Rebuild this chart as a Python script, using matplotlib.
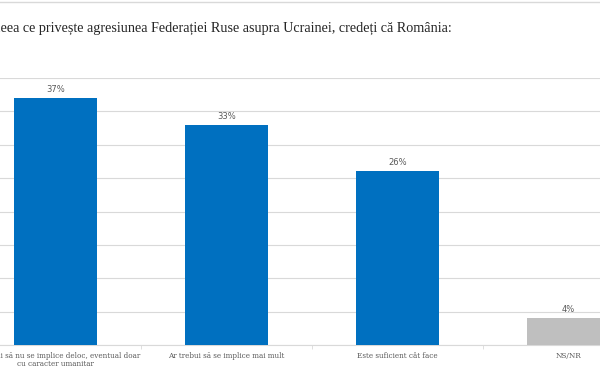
import matplotlib.pyplot as plt
from matplotlib.lines import Line2D

# date
categorii = ["Ar trebui să nu se implice deloc, eventual doar\ncu caracter umanitar",
             "Ar trebui să se implice mai mult",
             "Este suficient cât face",
             "NS/NR"]
procente = [37, 33, 26, 4]
culori = ["#0070c0", "#0070c0", "#0070c0", "#bfbfbf"]
titlu = "În ceea ce privește agresiunea Federației Ruse asupra Ucrainei, credeți că România:"

fig = plt.figure(figsize=(6, 3.75), dpi=100)
# graficul e decupat in stanga si dreapta, ca in captura
ax = fig.add_axes([-0.05, 0.08, 1.14, 0.712])

pozitii = range(len(categorii))
bare = ax.bar(pozitii, procente, width=0.49, color=culori, zorder=3)

for b, v in zip(bare, procente):
    ax.annotate(f"{v}%", (b.get_x() + b.get_width() / 2, v),
                xytext=(0, 3), textcoords="offset points",
                ha="center", va="bottom", fontsize=6, color="#595959",
                family="DejaVu Sans")

ax.set_xlim(-0.5, 3.5)
ax.set_ylim(0, 40)
ax.set_yticks(range(0, 41, 5))
ax.yaxis.grid(True, color="#d9d9d9", linewidth=0.8, zorder=0)
ax.tick_params(axis="y", left=False, labelleft=False)

ax.set_xticks(list(pozitii))
ax.set_xticklabels(categorii, fontsize=5.2, color="#595959", family="DejaVu Serif",
                   linespacing=1.05)
ax.tick_params(axis="x", length=0, pad=5)
ax.set_xticks([0.5, 1.5, 2.5], minor=True)
ax.tick_params(axis="x", which="minor", length=3, color="#d9d9d9")

for s in ["top", "left", "right"]:
    ax.spines[s].set_visible(False)
ax.spines["bottom"].set_color("#d9d9d9")
ax.spines["bottom"].set_linewidth(0.8)

fig.text(452 / 600, 1 - 27 / 375, titlu, ha="right", va="center",
         fontsize=10.2, color="#262626", family="Liberation Serif")
fig.add_artist(Line2D([0, 1], [0.995, 0.995], color="#d9d9d9", linewidth=1))

fig.savefig("out.png", dpi=100)
